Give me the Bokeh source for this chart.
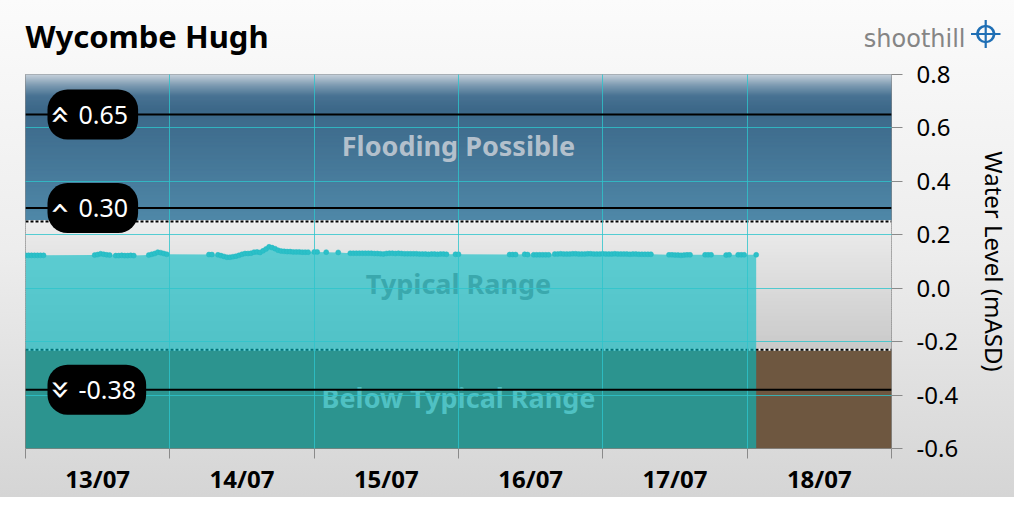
import numpy as np
import pandas as pd
from bokeh.plotting import figure
from bokeh.models import Range1d, FixedTicker, Span, Label, Title, InlineStyleSheet
from bokeh.core.properties import value
from bokeh.embed import file_html
from bokeh.resources import INLINE

# ---------------- data ----------------
station = "Wycombe Hugh"
brand = "shoothill"
brand_icon = "\u2316"
start_date = "2023-07-13"
day_labels = ["13/07", "14/07", "15/07", "16/07", "17/07", "18/07"]
y_ticks = [-0.6, -0.4, -0.2, 0.0, 0.2, 0.4, 0.6, 0.8]
y_label = "Water Level (mASD)"

# hours after 13/07 00:00 and water level (mASD)
hours = [0, 0.5, 1, 1.5, 2, 2.5, 3,
         11.5, 12, 12.5, 13, 13.5, 14,
         15, 15.5, 16, 16.5, 17, 17.5, 18,
         20.5, 21, 21.5, 22, 22.5, 23, 23.5,
         30.5, 31,
         32, 32.5, 33, 33.5, 34, 34.5, 35, 35.5, 36, 36.5, 37, 37.5, 38, 38.5, 39, 39.5, 40, 40.5, 41,
         41.5, 42, 42.5, 43, 43.5, 44, 44.5, 45, 45.5, 46, 46.5, 47,
         48, 48.5, 50, 52,
         54, 54.5, 55, 55.5, 56, 56.5, 57, 57.5, 58, 58.5, 59, 59.5, 60, 60.5, 61, 61.5, 62, 62.5,
         63, 63.5, 64, 64.5, 65, 65.5, 66, 66.5, 67, 67.5, 68, 68.5, 69, 69.5, 70, 71.5, 72,
         80.5, 81, 81.5, 83, 83.5, 84.5, 85, 85.5, 86, 86.5, 87,
         88, 88.5, 89, 89.5, 90, 90.5, 91, 91.5, 92, 92.5, 93, 93.5, 94, 94.5, 95, 95.5, 96, 96.5,
         97, 97.5, 98, 98.5, 99, 99.5, 100, 100.5, 101, 101.5, 102, 102.5, 103, 103.5, 104,
         107, 107.5, 108, 108.5, 109, 109.5, 110, 110.5,
         113, 113.5, 114,
         116.5, 117,
         118.5, 119, 119.5,
         121.5]
levels = [0.123, 0.123, 0.123, 0.123, 0.123, 0.123, 0.123,
          0.124, 0.126, 0.129, 0.127, 0.125, 0.124,
          0.122, 0.122, 0.123, 0.122, 0.122, 0.123, 0.122,
          0.124, 0.127, 0.130, 0.135, 0.133, 0.130, 0.127,
          0.126, 0.126,
          0.125, 0.122, 0.119, 0.116, 0.116, 0.118, 0.120, 0.123, 0.127, 0.130, 0.130, 0.131, 0.135, 0.136, 0.134, 0.140, 0.147, 0.155, 0.152,
          0.148, 0.142, 0.139, 0.138, 0.137, 0.137, 0.136, 0.136, 0.136, 0.135, 0.135, 0.135,
          0.136, 0.136, 0.135, 0.134,
          0.131, 0.131, 0.131, 0.131, 0.131, 0.131, 0.131, 0.131, 0.130, 0.130, 0.129, 0.128, 0.130, 0.131, 0.131, 0.130, 0.131, 0.130,
          0.129, 0.129, 0.129, 0.129, 0.129, 0.128, 0.128, 0.128, 0.127, 0.128, 0.128, 0.127, 0.128, 0.128, 0.127, 0.127, 0.127,
          0.126, 0.126, 0.126, 0.127, 0.126, 0.125, 0.125, 0.125, 0.125, 0.125, 0.125,
          0.128, 0.128, 0.129, 0.128, 0.128, 0.128, 0.129, 0.129, 0.128, 0.128, 0.128, 0.129, 0.129, 0.128, 0.128, 0.128, 0.129, 0.128,
          0.128, 0.128, 0.129, 0.128, 0.128, 0.128, 0.128, 0.127, 0.128, 0.128, 0.127, 0.127, 0.127, 0.127, 0.127,
          0.125, 0.125, 0.124, 0.124, 0.123, 0.124, 0.125, 0.125,
          0.125, 0.125, 0.125,
          0.124, 0.125,
          0.125, 0.125, 0.125,
          0.125]

band_edges = [-0.6, -0.23, 0.25, 0.8]
band_names = ["Below Typical Range", "Typical Range", "Flooding Possible"]
band_text_colors = ["#4fc1c3", "#3aa8ad", "#b3c0cc"]
thresholds = [0.65, 0.30, -0.38]
threshold_labels = ["0.65", "0.30", "-0.38"]
threshold_icons = ["\u00ab", "\u2039", "\u00bb"]

# ---------------- helpers ----------------
start = pd.Timestamp(start_date)
def ms(h):
    return (start + pd.Timedelta(hours=h)).value / 1e6

ndays = len(day_labels)
x0, x1 = ms(0), ms(24 * ndays)
xs = start + pd.to_timedelta(hours, unit="h")
noon_ticks = [ms(12 + 24 * i) for i in range(ndays)]
midnight_ticks = [ms(24 * i) for i in range(ndays + 1)]

FONT = "Noto Sans"
BG = "linear-gradient(to bottom, #fbfbfb 0%, #ededed 50%, #d5d5d5 100%)"

p = figure(frame_width=866, frame_height=374,
           x_axis_type="datetime", y_axis_location="right",
           x_range=Range1d(x0, x1), y_range=Range1d(y_ticks[0], y_ticks[-1]),
           output_backend="svg", toolbar_location=None,
           min_border_left=25, min_border_top=73, min_border_right=117, min_border_bottom=49)
p.border_fill_alpha = 0
p.background_fill_color = "#e0e0e0"
p.outline_line_color = "#8a8a8a"
p.styles = {"background": BG}
p.stylesheets = [InlineStyleSheet(css=":host { background: %s !important; }" % BG)]

def hexc(r, g, b):
    return "#%02x%02x%02x" % (int(round(r)), int(round(g)), int(round(b)))

# flooding band gradient
fy = np.linspace(band_edges[2], band_edges[3], 111)
fmid = (fy[:-1] + fy[1:]) / 2
fk = [0.25, 0.67, 0.72, 0.76, 0.8]
fr = np.interp(fmid, fk, [79, 60, 72, 125, 198])
fg = np.interp(fmid, fk, [136, 104, 114, 155, 208])
fbb = np.interp(fmid, fk, [168, 137, 146, 178, 218])
p.quad(left=x0, right=x1, bottom=fy[:-1], top=fy[1:] + 0.004,
       fill_color=[hexc(*c) for c in zip(fr, fg, fbb)], line_color=None)

# typical band gradient
ty = np.linspace(band_edges[1], band_edges[2], 61)
tmid = (ty[:-1] + ty[1:]) / 2
tg = np.interp(tmid, [band_edges[1], band_edges[2]], [201, 237])
p.quad(left=x0, right=x1, bottom=ty[:-1], top=ty[1:] + 0.004,
       fill_color=[hexc(g, g, g) for g in tg], line_color=None)

# below band
p.quad(left=x0, right=x1, bottom=band_edges[0], top=band_edges[1],
       fill_color="#6e5740", line_color=None)

# dotted band boundaries
for e in band_edges[1:3]:
    p.line([x0, x1], [e, e], line_color="white", line_width=2)
    p.line([x0, x1], [e, e], line_color="black", line_width=2, line_dash="3 2")

# data area and points
p.varea(x=xs, y1=band_edges[0], y2=levels, fill_color=(0, 189, 196), fill_alpha=0.6)
p.scatter(x=xs, y=levels, size=5, fill_color="#2cc0c8", line_color="#25b8c2", line_width=0.5)

# band names
centers = [(band_edges[i] + band_edges[i + 1]) / 2 for i in range(3)]
p.text(x=[(x0 + x1) / 2] * 3, y=centers, text=band_names, text_color=band_text_colors,
       text_font=value(FONT), text_font_style="bold", text_font_size="27px",
       text_align="center", text_baseline="middle", y_offset=-2)

# grid
p.xgrid.ticker = FixedTicker(ticks=midnight_ticks)
p.grid.grid_line_color = "#2ec4cc"
p.grid.grid_line_alpha = 0.8
p.grid.level = "guide"

# axes
xa = p.xaxis[0]
xa.ticker = FixedTicker(ticks=noon_ticks, minor_ticks=midnight_ticks)
xa.major_label_overrides = {t: l for t, l in zip(noon_ticks, day_labels)}
xa.major_tick_out = 0
xa.major_tick_in = 0
xa.minor_tick_out = 10
xa.minor_tick_in = 0
xa.minor_tick_line_color = "#8a8a8a"
xa.axis_line_color = None
xa.major_label_text_font = FONT
xa.major_label_text_font_style = "bold"
xa.major_label_text_font_size = "24px"
xa.major_label_text_color = "black"
xa.major_label_standoff = 3

ya = p.yaxis[0]
ya.ticker = FixedTicker(ticks=y_ticks)
ya.major_label_overrides = {t: "%.1f" % t for t in y_ticks}
ya.major_tick_out = 11
ya.major_tick_in = 0
ya.minor_tick_line_color = None
ya.major_tick_line_color = "#8a8a8a"
ya.axis_line_color = None
ya.major_label_text_font = FONT
ya.major_label_text_font_size = "24px"
ya.major_label_text_color = "black"
ya.major_label_standoff = 14
ya.axis_label = y_label
ya.axis_label_text_font = FONT
ya.axis_label_text_font_size = "24px"
ya.axis_label_text_font_style = "normal"
ya.axis_label_text_color = "black"
ya.axis_label_standoff = 17

# threshold lines and pills
for t, lab, ic in zip(thresholds, threshold_labels, threshold_icons):
    p.add_layout(Span(location=t, dimension="width", line_color="black", line_width=2))
    p.add_layout(Label(x=22, y=t, x_units="screen", y_units="data", text=lab,
                       text_font=FONT, text_font_size="25px", text_color="white",
                       text_align="left", text_baseline="middle",
                       background_fill_color="black", background_fill_alpha=1.0,
                       padding=dict(left=31, right=10, top=16, bottom=16), border_radius=20))
    p.add_layout(Label(x=36, y=t, x_units="screen", y_units="data", text=ic,
                       text_font="DejaVu Sans", text_font_size="34px", text_color="white",
                       text_align="center", text_baseline="middle", angle=-np.pi / 2))

# header: brand text and icon stacked next to the frame, station title outermost
p.add_layout(Title(text=brand, align="right", vertical_align="bottom", offset=-74, standoff=43.6,
                   text_font="DejaVu Sans", text_font_size="24px", text_font_style="normal",
                   text_color="#858585"), "above")
p.add_layout(Title(text=brand_icon, align="right", vertical_align="bottom", offset=-110, standoff=-128,
                   text_font="DejaVu Sans", text_font_size="56px", text_font_style="normal",
                   text_color="#1f6fb5"), "above")

p.title.text = station
p.title.align = "left"
p.title.offset = 0
p.title.standoff = -112.4
p.title.text_font = FONT
p.title.text_font_style = "bold"
p.title.text_font_size = "31px"
p.title.text_color = "black"

open("out.html", "w").write(file_html(p, INLINE))
